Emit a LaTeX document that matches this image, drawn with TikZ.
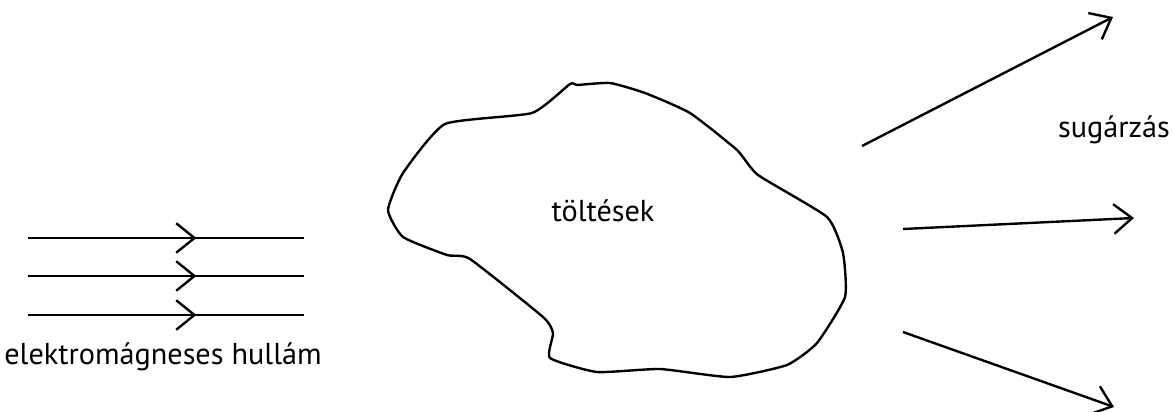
\documentclass[tikz,border=0pt]{standalone}
\usepackage{fontspec}
\setmainfont{PT Sans}
\usetikzlibrary{positioning, arrows.meta, decorations.markings}

\begin{document}
\begin{tikzpicture}[
  x=0.025cm, y=-0.025cm,
  every node/.style={font=\fontsize{21.5}{25}\selectfont, inner sep=0pt},
  line/.style={line width=1.7pt},
  barb/.style={-{Straight Barb[length=13pt, width=21pt]}},
  midbarb/.style={postaction={decorate}, decoration={markings,
    mark=at position 0.61 with {\arrow{Straight Barb[length=13pt, width=21pt]}}}}
]
\useasboundingbox (0,0) rectangle (1174,412);

% incoming wave
\foreach \n/\y in {1/238, 2/276, 3/315} {
  \coordinate (w\n s) at (28,\y);
  \coordinate (w\n e) at (304,\y);
  \draw[line, midbarb] (w\n s) -- (w\n e);
}
\node (wave) at (163,357) {elektromágneses hullám};

% charges
\draw[line] plot[smooth cycle, tension=0.3] coordinates {
  (445,124) (532,113) (570,84) (577,85) (610,83) (645,93) (690,113)
  (737,150) (758,175) (827,217) (843,253) (845,297) (817,343) (787,365)
  (730,377) (660,369) (597,372) (550,358) (553,333) (543,317) (470,259)
  (447,255) (403,237) (388,210) (403,173)};
\node (charges) at (603,211) {töltések};

% radiation
\coordinate (r1s) at (862,146);  \coordinate (r1e) at (1113,17);
\coordinate (r2s) at (903,229);  \coordinate (r2e) at (1134,218);
\coordinate (r3s) at (903,332);  \coordinate (r3e) at (1114,407);
\foreach \n in {1,2,3} \draw[line, barb] (r\n s) -- (r\n e);
\node (rad) at (1114,130) {sugárzás};
\end{tikzpicture}
\end{document}
